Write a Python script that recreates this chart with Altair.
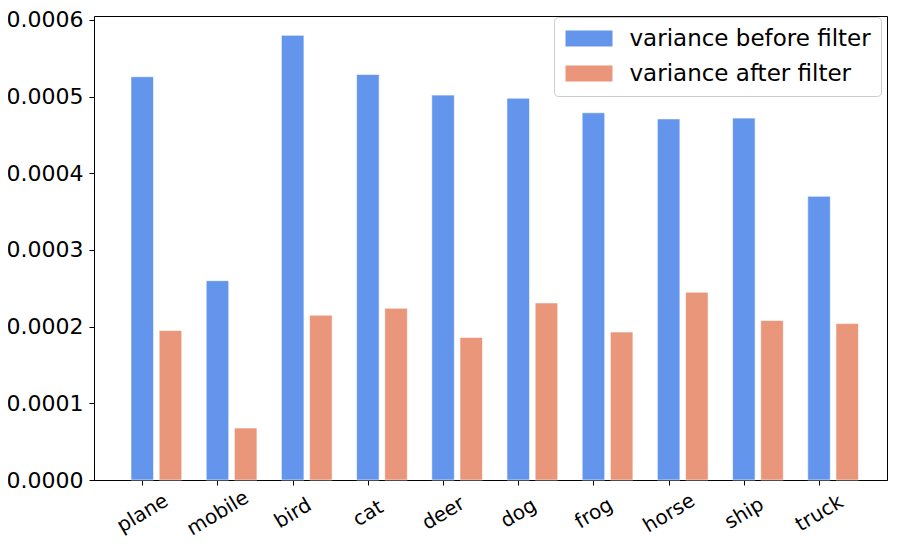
import altair as alt
import pandas as pd

categories = ["plane", "mobile", "bird", "cat", "deer", "dog", "frog", "horse", "ship", "truck"]
before = [0.000526, 0.000260, 0.000580, 0.000529, 0.000502, 0.000498, 0.000479, 0.000471, 0.000472, 0.000370]
after = [0.000195, 0.0000678, 0.000215, 0.000224, 0.000186, 0.000231, 0.000193, 0.000245, 0.000208, 0.000204]
series = ["variance before filter", "variance after filter"]
colors = ["#6495ED", "#E9967A"]
y_ticks = [0.0, 0.0001, 0.0002, 0.0003, 0.0004, 0.0005, 0.0006]

rows = []
for i, c in enumerate(categories):
    rows.append(dict(idx=i, category=c, series=series[0], value=before[i], shift=0.0))
    rows.append(dict(idx=i, category=c, series=series[1], value=after[i], shift=0.375))
df = pd.DataFrame(rows)

label_expr = "[" + ",".join(f"'{c}'" for c in categories) + "][datum.value]"
FONT = "DejaVu Sans"

chart = alt.Chart(df).transform_calculate(
    x0="datum.idx + datum.shift - 0.15",
    x1="datum.idx + datum.shift + 0.15",
).mark_bar(stroke="white", strokeWidth=0.6).encode(
    x=alt.X(
        "x0:Q",
        scale=alt.Scale(domain=[-0.642, 9.904], nice=False, zero=False),
        axis=alt.Axis(
            values=list(range(len(categories))), labelExpr=label_expr, title=None,
            labelAngle=329, labelAlign="center", labelBaseline="middle",
            labelPadding=28, labelFontSize=20, labelOverlap=False, labelFlush=False,
            tickSize=5, grid=False,
        ),
    ),
    x2="x1:Q",
    y=alt.Y(
        "value:Q",
        scale=alt.Scale(domain=[0, 0.0006052], nice=False),
        axis=alt.Axis(
            values=y_ticks, format=".4f", title=None, labelFontSize=22,
            labelPadding=6, tickSize=5, grid=False, labelFlush=False, labelOverlap=False,
        ),
    ),
    y2=alt.datum(0),
    color=alt.Color(
        "series:N",
        scale=alt.Scale(domain=series, range=colors),
        legend=alt.Legend(
            title=None, orient="none", legendX=460, legendY=1,
            symbolType="M-2.35,-0.8L2.35,-0.8L2.35,0.8L-2.35,0.8Z",
            symbolSize=400, symbolOffset=13.5, symbolStrokeWidth=0, symbolOpacity=1,
            labelOffset=29, labelFontSize=23, labelFont=FONT, labelColor="black",
            labelLimit=0, rowPadding=11, padding=10, strokeColor="#cccccc",
            fillColor="white", cornerRadius=4,
        ),
    ),
).properties(
    width=793, height=464,
    autosize=alt.AutoSizeParams(type="none"),
    padding={"left": 86, "top": 8, "right": 2, "bottom": 60},
).configure_axis(
    domainColor="black", tickColor="black", labelColor="black",
    labelFont=FONT, domainWidth=1, tickWidth=1,
).configure_view(
    stroke="black", strokeWidth=1,
)

chart.save("out.html", embed_options={"renderer": "svg", "actions": False})
